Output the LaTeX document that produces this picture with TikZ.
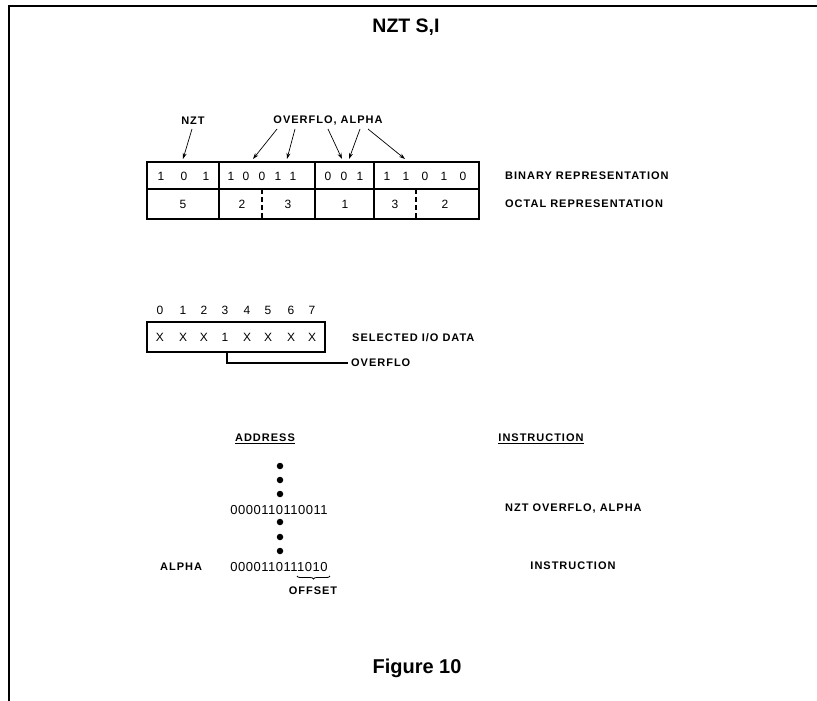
\documentclass[tikz,border=0pt]{standalone}
\usepackage{fontspec}
\setmainfont{Liberation Sans}
\usetikzlibrary{decorations.pathreplacing,arrows.meta}
\begin{document}
\begin{tikzpicture}[x=1pt,y=-1pt,
 lbl/.style={font=\fontsize{11}{13}\selectfont\bfseries\addfontfeatures{LetterSpace=9}, inner sep=0pt},
 dig/.style={font=\fontsize{12}{14}\selectfont, inner sep=0pt},
 addrfont/.style={font=\fontsize{13}{15}\selectfont\addfontfeatures{LetterSpace=4}, inner sep=0pt},
 boxline/.style={line width=1.8pt},
 dashdiv/.style={line width=1.6pt, dash pattern=on 5pt off 3pt},
 arr/.style={-{Stealth[length=6pt,width=4pt]}, line width=0.7pt},
 dot/.style={circle, fill=black, inner sep=0pt, minimum size=6.5pt}]
\useasboundingbox (0,0) rectangle (817,701);
\draw[line width=1.5pt] (9,701) -- (9,6) -- (817,6);

\node[font=\fontsize{19.5}{22}\selectfont\bfseries] (title) at (406,27) {NZT S,I};

% ---------- top table ----------
\draw[boxline] (147,162) rectangle (479,219);
\draw[boxline] (147,189) -- (479,189);
\foreach \xx in {219,315,374} \draw[boxline] (\xx,162) -- (\xx,219);
\foreach \xx in {262,416} \draw[dashdiv] (\xx,189) -- (\xx,219);

\foreach \d/\xx [count=\i] in {1/161,0/184,1/206,1/231,0/246,0/262,1/278,1/293,0/328,0/344,1/360,1/387,1/406,0/425,1/444,0/463}
  \node[dig] (b\i) at (\xx,176) {\d};
\foreach \d/\xx [count=\i] in {5/183,2/242,3/288,1/345,3/395,2/445}
  \node[dig] (o\i) at (\xx,204) {\d};

\node[lbl, anchor=west] (binlbl) at (505,176) {BINARY REPRESENTATION};
\node[lbl, anchor=west] (octlbl) at (505,204) {OCTAL REPRESENTATION};

\node[lbl] (nzt) at (193,121) {NZT};
\node[lbl] (ovalpha) at (328,121) {OVERFLO, ALPHA};

\coordinate (s1) at (192,129); \coordinate (t1) at (183,159);
\coordinate (s2) at (277,129); \coordinate (t2) at (253,159);
\coordinate (s3) at (295,129); \coordinate (t3) at (287,159);
\coordinate (s4) at (328,129); \coordinate (t4) at (342,159);
\coordinate (s5) at (360,129); \coordinate (t5) at (349,159);
\coordinate (s6) at (368,129); \coordinate (t6) at (405,159);
\foreach \i in {1,...,6} \draw[arr] (s\i) -- (t\i);

% ---------- selected I/O data ----------
\foreach \xx [count=\i from 0] in {160,183,204,225,247,268,291,312}
  \node[dig] (n\i) at (\xx,310) {\i};
\draw[boxline] (147,322) rectangle (325,352);
\foreach \d/\xx [count=\i] in {X/160,X/183,X/204,1/225,X/247,X/268,X/291,X/312}
  \node[dig] (x\i) at (\xx,337) {\d};
\node[lbl, anchor=west] (sel) at (352,338) {SELECTED I/O DATA};
\node[lbl, anchor=west] (ovf) at (351,363) {OVERFLO};
\coordinate (tap) at (227,352);
\coordinate (tapend) at (348,363);
\draw[line width=1.6pt] (tap) |- (tapend);

% ---------- address / instruction ----------
\node[lbl] (addr) at (265,439) {\underline{ADDRESS}};
\node[lbl] (instr) at (541,439) {\underline{INSTRUCTION}};
\foreach \yy [count=\i] in {466,480,494,522,537,551}
  \node[dot] (d\i) at (280,\yy) {};
\node[addrfont] (a1) at (279,510) {0000110110011};
\node[addrfont] (a2) at (279,567) {0000110111010};
\node[lbl, anchor=west] (alpha) at (160,567) {ALPHA};
\node[lbl, anchor=west] (i1) at (505,509) {NZT OVERFLO, ALPHA};
\node[lbl] (i2) at (573,566) {INSTRUCTION};
\coordinate (br1) at (297,576);
\coordinate (br2) at (330,576);
\draw[line width=0.8pt, decorate, decoration={brace, amplitude=3pt, mirror}] (br1) -- (br2);
\node[lbl] (offset) at (313,591) {OFFSET};

\node[font=\fontsize{20}{24}\selectfont\bfseries] (fig) at (417,668) {Figure 10};
\end{tikzpicture}
\end{document}
